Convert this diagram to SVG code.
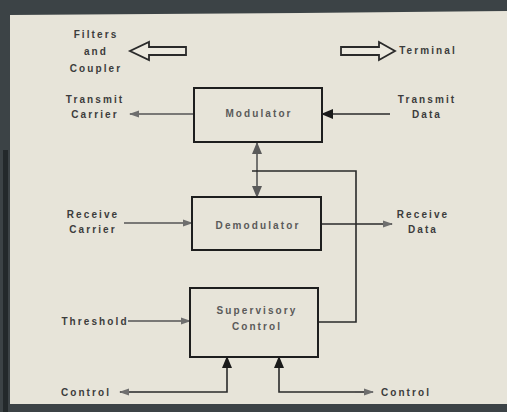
<svg xmlns="http://www.w3.org/2000/svg" width="507" height="412" viewBox="0 0 507 412">
<style>
.t{font-family:"Liberation Sans",Arial,sans-serif;font-weight:bold;font-size:10px;fill:#3c3c3c;letter-spacing:2.1px;text-anchor:middle}
.bt{fill:#5a5a5a}
.box{fill:none;stroke:#1e1e1e;stroke-width:2}
.ln{fill:none;stroke:#2a2a2a;stroke-width:1.6}
.gl{fill:none;stroke:#555;stroke-width:1.6}
.ha{fill:#ece9df;stroke:#2a2a2a;stroke-width:1.8}
</style>
<defs>
<marker id="ag" markerWidth="10" markerHeight="8" refX="9" refY="4" orient="auto" markerUnits="userSpaceOnUse"><path d="M0,0.5 L10,4 L0,7.5 Z" fill="#6e6e6e"/></marker>
<marker id="ab" markerWidth="12" markerHeight="10" refX="11" refY="5" orient="auto" markerUnits="userSpaceOnUse"><path d="M0,0 L12,5 L0,10 Z" fill="#1a1a1a"/></marker>
<marker id="ad" markerWidth="12" markerHeight="10" refX="11" refY="5" orient="auto" markerUnits="userSpaceOnUse"><path d="M0,0 L12,5 L0,10 Z" fill="#5a5a5a"/></marker>
</defs>
<rect width="507" height="412" fill="#3c4346"/>
<rect x="3" y="150" width="5" height="262" fill="#23292b"/>
<path d="M10,15 L300,13 L507,11 L507,404 L10,404 Z" fill="#e7e4d9"/>

<g id="connectors">
<line class="gl" x1="194" y1="114" x2="130" y2="114" marker-end="url(#ag)"/>
<line class="ln" x1="390" y1="114" x2="322" y2="114" marker-end="url(#ab)"/>
<line class="gl" x1="257" y1="170" x2="257" y2="143" marker-end="url(#ad)"/>
<line class="gl" x1="257" y1="170" x2="257" y2="197" marker-end="url(#ad)"/>
<polyline class="ln" points="252,171 356,171 356,322 319,322"/>
<line class="gl" x1="124" y1="223" x2="192" y2="223" marker-end="url(#ag)"/>
<line class="ln" x1="321" y1="224" x2="392" y2="224" marker-end="url(#ag)"/>
<line class="gl" x1="128" y1="321" x2="190" y2="321" marker-end="url(#ag)"/>
<polyline class="ln" points="120,392 227,392 227,357" marker-end="url(#ab)"/>
<line class="gl" x1="150" y1="392" x2="120" y2="392" marker-end="url(#ag)"/>
<polyline class="ln" points="371,392 279,392 279,357" marker-end="url(#ab)"/>
<line class="gl" x1="355" y1="392" x2="373" y2="392" marker-end="url(#ag)"/>
</g>

<g id="filters-coupler">
<text class="t" x="96" y="38">Filters</text>
<text class="t" x="96" y="55">and</text>
<text class="t" x="96" y="72">Coupler</text>
<path class="ha" d="M186,47 L149,47 L149,42 L130,51 L149,60 L149,55 L186,55 Z"/>
</g>

<g id="terminal">
<path class="ha" d="M341,47 L379,47 L379,42 L395,51 L379,60 L379,55 L341,55 Z"/>
<text class="t" x="428" y="54">Terminal</text>
</g>

<g id="modulator">
<rect class="box" x="194" y="88" width="128" height="54"/>
<text class="t bt" x="259" y="117">Modulator</text>
</g>

<g id="transmit-carrier">
<text class="t" x="95" y="103">Transmit</text>
<text class="t" x="95" y="118">Carrier</text>
</g>

<g id="transmit-data">
<text class="t" x="427" y="103">Transmit</text>
<text class="t" x="427" y="118">Data</text>
</g>

<g id="demodulator">
<rect class="box" x="192" y="197" width="129" height="53"/>
<text class="t bt" x="258" y="229">Demodulator</text>
</g>

<g id="receive-carrier">
<text class="t" x="93" y="218">Receive</text>
<text class="t" x="93" y="233">Carrier</text>
</g>

<g id="receive-data">
<text class="t" x="423" y="218">Receive</text>
<text class="t" x="423" y="233">Data</text>
</g>

<g id="supervisory-control">
<rect class="box" x="190" y="288" width="128" height="69"/>
<text class="t bt" x="257" y="314">Supervisory</text>
<text class="t bt" x="257" y="330">Control</text>
</g>

<g id="threshold">
<text class="t" x="95" y="325">Threshold</text>
</g>

<g id="control-left">
<text class="t" x="86" y="396">Control</text>
</g>

<g id="control-right">
<text class="t" x="406" y="396">Control</text>
</g>
</svg>
